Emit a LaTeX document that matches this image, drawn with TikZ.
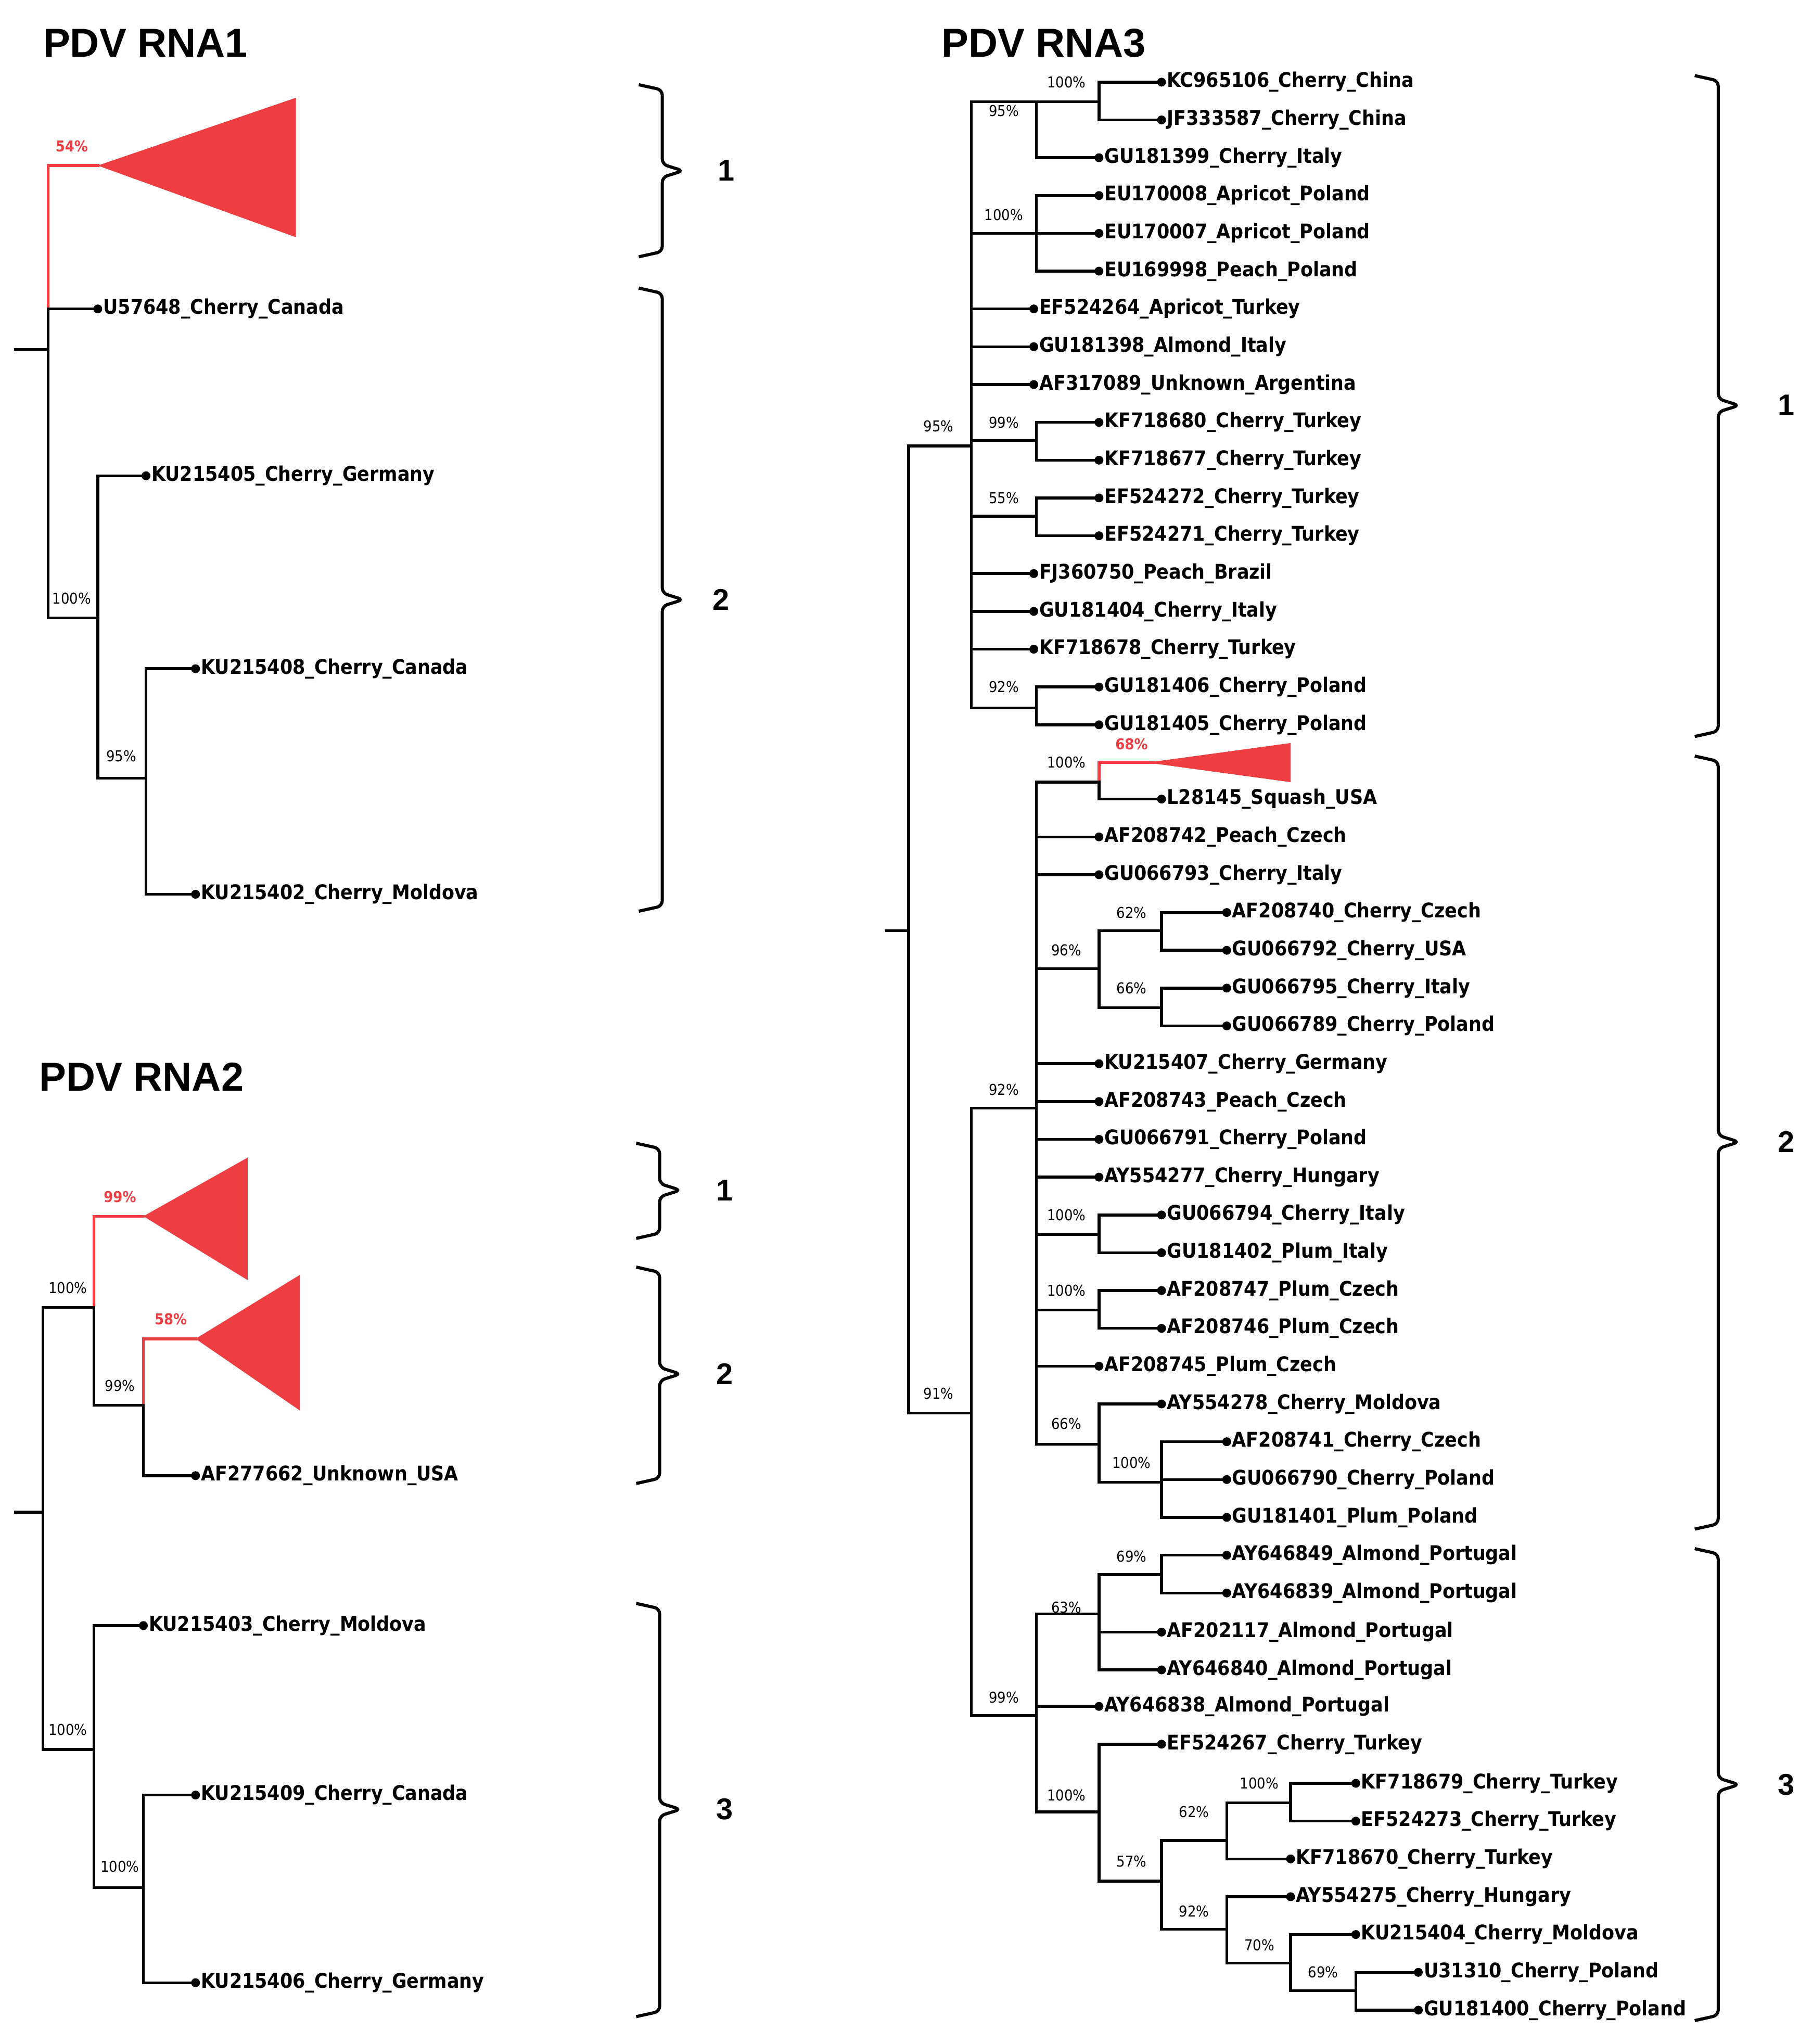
\documentclass[tikz,border=0pt]{standalone}
\usepackage{fontspec}
\setmainfont{DejaVu Sans Condensed}
\newfontfamily\titlefont{Liberation Sans}
\definecolor{cred}{RGB}{238,62,66}
\tikzset{
 br/.style={line width=2.2pt,line cap=rect},
 rbr/.style={line width=2.2pt,cred,line cap=rect},
 lf/.style={anchor=west,inner sep=1pt,xshift=3pt,font=\bfseries\fontsize{15.5}{16}\selectfont},
 pc/.style={inner sep=0pt,font=\fontsize{11.5}{12}\selectfont},
 rpc/.style={pc,text=cred,font=\bfseries\fontsize{11.5}{12}\selectfont},
 ttl/.style={anchor=west,inner sep=0pt,font=\titlefont\bfseries\fontsize{31}{34}\selectfont},
 brace/.style={line width=2.4pt,rounded corners=4pt},
 bl/.style={font=\titlefont\bfseries\fontsize{23}{25}\selectfont}
}
\newcommand\Leaf[4]{\draw[br] (#1,#3) -- (#2,#3); \fill (#2,#3) circle (3.4); \node[lf] at (#2,#3) {#4};}
\newcommand\Hz[3]{\draw[br] (#1,#3) -- (#2,#3);}
\newcommand\Vt[3]{\draw[br] (#1,#2) -- (#1,#3);}
\newcommand\Pct[3]{\node[pc] at (#1,#2) {#3};}
\newcommand\Brc[4]{\draw[brace] (#1-18,#2) -- (#1,#2+4) -- (#1,#3-5) -- (#1+16,#3) -- (#1,#3+5) -- (#1,#4-4) -- (#1-18,#4);}
\begin{document}
\begin{tikzpicture}[x=1pt,y=-1pt]
\useasboundingbox (0,0) rectangle (1389.6,1568);
% ---------- RNA1 ----------
\node[ttl] (t1) at (33,33) {PDV RNA1};
\Hz{12}{37}{268}
\draw[rbr] (37,237) -- (37,127) -- (75,127);
\fill[cred] (75,127) -- (227,75) -- (227,182) -- cycle;
\node[rpc] at (55,112) {54\%};
\Vt{37}{237}{474}
\Leaf{37}{75}{237}{U57648\_Cherry\_Canada}
\Hz{37}{75}{474} \Vt{75}{365}{597} \Pct{55}{459}{100\%}
\Leaf{75}{112}{365}{KU215405\_Cherry\_Germany}
\Hz{75}{112}{597} \Vt{112}{513}{686} \Pct{93}{580}{95\%}
\Leaf{112}{150}{513}{KU215408\_Cherry\_Canada}
\Leaf{112}{150}{686}{KU215402\_Cherry\_Moldova}
\Brc{508}{65}{131}{197} \node[bl] at (557,131) {1};
\Brc{508}{221}{460}{699} \node[bl] at (553,460) {2};
% ---------- RNA2 ----------
\node[ttl] (t2) at (30,826) {PDV RNA2};
\Hz{12}{33}{1160} \Vt{33}{1003}{1342}
\Hz{33}{72}{1003} \Pct{52}{988}{100\%}
\draw[rbr] (72,1003) -- (72,933) -- (110,933);
\fill[cred] (110,933) -- (190,888) -- (190,982) -- cycle;
\node[rpc] at (92,918) {99\%};
\Vt{72}{1003}{1078}
\Hz{72}{110}{1078} \Pct{92}{1063}{99\%}
\draw[rbr] (110,1078) -- (110,1027) -- (150,1027);
\fill[cred] (150,1027) -- (230,978) -- (230,1082) -- cycle;
\node[rpc] at (131,1012) {58\%};
\Vt{110}{1078}{1132}
\Leaf{110}{150}{1132}{AF277662\_Unknown\_USA}
\Hz{33}{72}{1342} \Vt{72}{1247}{1448} \Pct{52}{1327}{100\%}
\Leaf{72}{110}{1247}{KU215403\_Cherry\_Moldova}
\Hz{72}{110}{1448} \Vt{110}{1377}{1521} \Pct{92}{1432}{100\%}
\Leaf{110}{150}{1377}{KU215409\_Cherry\_Canada}
\Leaf{110}{150}{1521}{KU215406\_Cherry\_Germany}
\Brc{506}{877}{913}{950} \node[bl] at (556,913) {1};
\Brc{506}{972}{1054}{1138} \node[bl] at (556,1054) {2};
\Brc{506}{1230}{1388}{1547} \node[bl] at (556,1388) {3};
% ---------- RNA3 ----------
\node[ttl] (t3) at (722,33) {PDV RNA3};
\Hz{680}{697}{714} \Vt{697}{342}{1084}
\Pct{720}{327}{95\%} \Pct{720}{1069}{91\%}
\Hz{697}{745}{342} \Vt{745}{78}{543}
% clade 1
\Hz{745}{795}{78} \Vt{795}{78}{121} \Pct{770}{85}{95\%}
\Hz{795}{843}{78} \Vt{843}{63}{92} \Pct{818}{63}{100\%}
\Leaf{843}{891}{63}{KC965106\_Cherry\_China}
\Leaf{843}{891}{92}{JF333587\_Cherry\_China}
\Leaf{795}{843}{121}{GU181399\_Cherry\_Italy}
\Hz{745}{795}{179} \Vt{795}{150}{208} \Pct{770}{165}{100\%}
\Leaf{795}{843}{150}{EU170008\_Apricot\_Poland}
\Leaf{795}{843}{179}{EU170007\_Apricot\_Poland}
\Leaf{795}{843}{208}{EU169998\_Peach\_Poland}
\Leaf{745}{793}{237}{EF524264\_Apricot\_Turkey}
\Leaf{745}{793}{266}{GU181398\_Almond\_Italy}
\Leaf{745}{793}{295}{AF317089\_Unknown\_Argentina}
\Hz{745}{795}{338} \Vt{795}{324}{353} \Pct{770}{324}{99\%}
\Leaf{795}{843}{324}{KF718680\_Cherry\_Turkey}
\Leaf{795}{843}{353}{KF718677\_Cherry\_Turkey}
\Hz{745}{795}{396} \Vt{795}{382}{411} \Pct{770}{382}{55\%}
\Leaf{795}{843}{382}{EF524272\_Cherry\_Turkey}
\Leaf{795}{843}{411}{EF524271\_Cherry\_Turkey}
\Leaf{745}{793}{440}{FJ360750\_Peach\_Brazil}
\Leaf{745}{793}{469}{GU181404\_Cherry\_Italy}
\Leaf{745}{793}{498}{KF718678\_Cherry\_Turkey}
\Hz{745}{795}{543} \Vt{795}{527}{556} \Pct{770}{527}{92\%}
\Leaf{795}{843}{527}{GU181406\_Cherry\_Poland}
\Leaf{795}{843}{556}{GU181405\_Cherry\_Poland}
% lower
\Hz{697}{745}{1084} \Vt{745}{850}{1316}
\Hz{745}{795}{850} \Vt{795}{600}{1108} \Pct{770}{836}{92\%}
\Hz{795}{843}{600} \Pct{818}{585}{100\%}
\draw[rbr] (843,600) -- (843,585) -- (885,585);
\fill[cred] (880,585) -- (990,570) -- (990,600) -- cycle;
\node[rpc] at (868,571) {68\%};
\Vt{843}{600}{613}
\Leaf{843}{891}{613}{L28145\_Squash\_USA}
\Leaf{795}{843}{642}{AF208742\_Peach\_Czech}
\Leaf{795}{843}{671}{GU066793\_Cherry\_Italy}
\Hz{795}{843}{743} \Vt{843}{714}{773} \Pct{818}{729}{96\%}
\Hz{843}{891}{714} \Vt{891}{700}{729} \Pct{868}{700}{62\%}
\Leaf{891}{941}{700}{AF208740\_Cherry\_Czech}
\Leaf{891}{941}{729}{GU066792\_Cherry\_USA}
\Hz{843}{891}{773} \Vt{891}{758}{787} \Pct{868}{758}{66\%}
\Leaf{891}{941}{758}{GU066795\_Cherry\_Italy}
\Leaf{891}{941}{787}{GU066789\_Cherry\_Poland}
\Leaf{795}{843}{816}{KU215407\_Cherry\_Germany}
\Leaf{795}{843}{845}{AF208743\_Peach\_Czech}
\Leaf{795}{843}{874}{GU066791\_Cherry\_Poland}
\Leaf{795}{843}{903}{AY554277\_Cherry\_Hungary}
\Hz{795}{843}{947} \Vt{843}{932}{961} \Pct{818}{932}{100\%}
\Leaf{843}{891}{932}{GU066794\_Cherry\_Italy}
\Leaf{843}{891}{961}{GU181402\_Plum\_Italy}
\Hz{795}{843}{1005} \Vt{843}{990}{1019} \Pct{818}{990}{100\%}
\Leaf{843}{891}{990}{AF208747\_Plum\_Czech}
\Leaf{843}{891}{1019}{AF208746\_Plum\_Czech}
\Leaf{795}{843}{1048}{AF208745\_Plum\_Czech}
\Hz{795}{843}{1108} \Vt{843}{1077}{1137} \Pct{818}{1092}{66\%}
\Leaf{843}{891}{1077}{AY554278\_Cherry\_Moldova}
\Hz{843}{891}{1137} \Vt{891}{1106}{1164} \Pct{868}{1122}{100\%}
\Leaf{891}{941}{1106}{AF208741\_Cherry\_Czech}
\Leaf{891}{941}{1135}{GU066790\_Cherry\_Poland}
\Leaf{891}{941}{1164}{GU181401\_Plum\_Poland}
% clade 3
\Hz{745}{795}{1316} \Vt{795}{1238}{1390} \Pct{770}{1302}{99\%}
\Hz{795}{843}{1238} \Vt{843}{1208}{1281} \Pct{818}{1233}{63\%}
\Hz{843}{891}{1208} \Vt{891}{1193}{1222} \Pct{868}{1194}{69\%}
\Leaf{891}{941}{1193}{AY646849\_Almond\_Portugal}
\Leaf{891}{941}{1222}{AY646839\_Almond\_Portugal}
\Leaf{843}{891}{1252}{AF202117\_Almond\_Portugal}
\Leaf{843}{891}{1281}{AY646840\_Almond\_Portugal}
\Leaf{795}{843}{1309}{AY646838\_Almond\_Portugal}
\Hz{795}{843}{1390} \Vt{843}{1338}{1443} \Pct{818}{1377}{100\%}
\Leaf{843}{891}{1338}{EF524267\_Cherry\_Turkey}
\Hz{843}{891}{1443} \Vt{891}{1412}{1480} \Pct{868}{1428}{57\%}
\Hz{891}{941}{1412} \Vt{941}{1383}{1426} \Pct{916}{1390}{62\%}
\Hz{941}{990}{1383} \Vt{990}{1368}{1397} \Pct{966}{1368}{100\%}
\Leaf{990}{1040}{1368}{KF718679\_Cherry\_Turkey}
\Leaf{990}{1040}{1397}{EF524273\_Cherry\_Turkey}
\Leaf{941}{990}{1426}{KF718670\_Cherry\_Turkey}
\Hz{891}{941}{1480} \Vt{941}{1455}{1506} \Pct{916}{1466}{92\%}
\Leaf{941}{990}{1455}{AY554275\_Cherry\_Hungary}
\Hz{941}{990}{1506} \Vt{990}{1484}{1527} \Pct{966}{1492}{70\%}
\Leaf{990}{1040}{1484}{KU215404\_Cherry\_Moldova}
\Hz{990}{1040}{1527} \Vt{1040}{1513}{1542} \Pct{1015}{1513}{69\%}
\Leaf{1040}{1088}{1513}{U31310\_Cherry\_Poland}
\Leaf{1040}{1088}{1542}{GU181400\_Cherry\_Poland}
\Brc{1318}{58}{311}{565} \node[bl] at (1370,311) {1};
\Brc{1318}{580}{876}{1173} \node[bl] at (1370,876) {2};
\Brc{1318}{1188}{1369}{1550} \node[bl] at (1370,1369) {3};
\end{tikzpicture}
\end{document}
